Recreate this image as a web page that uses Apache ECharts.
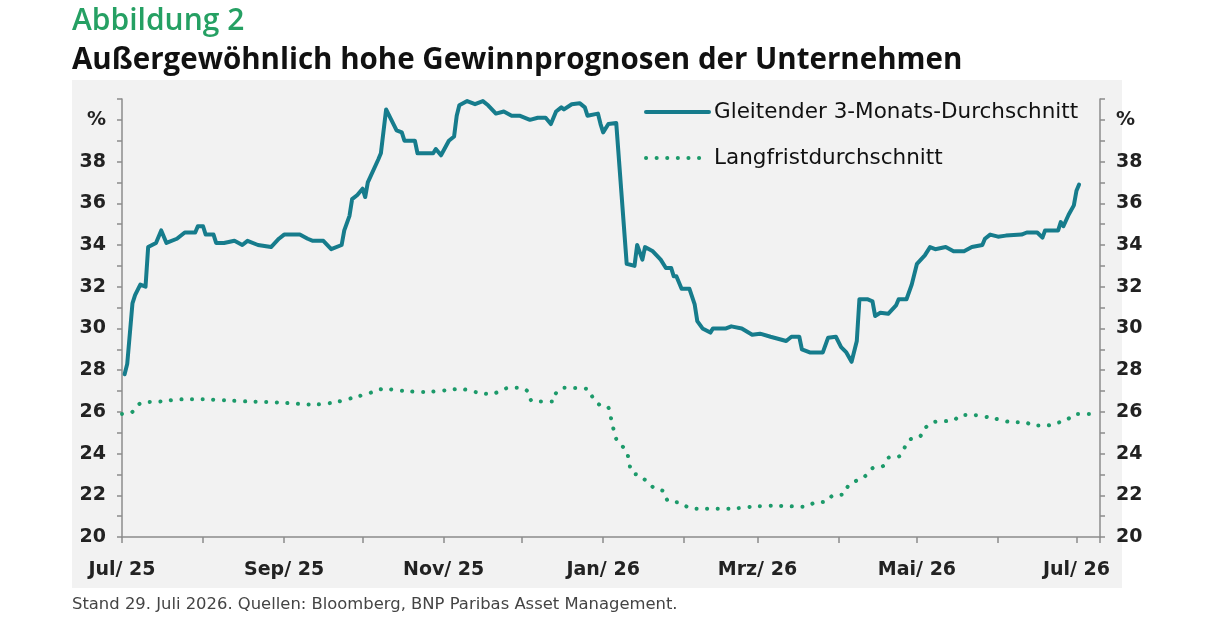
<!DOCTYPE html>
<html>
<head>
<meta charset="utf-8">
<script src="https://cdn.jsdelivr.net/npm/echarts@6/dist/echarts.min.js"></script>
<style>
html,body{margin:0;padding:0;background:#fff;}
#chart{width:1223px;height:619px;}
</style>
</head>
<body>
<div id="chart"></div>
<script>
// Gleitender 3-Monats-Durchschnitt
const avg3mDates = [
'2025-07-02','2025-07-03','2025-07-05','2025-07-06','2025-07-08','2025-07-10','2025-07-11','2025-07-14','2025-07-16','2025-07-18',
'2025-07-22','2025-07-25','2025-07-29','2025-07-30','2025-08-01','2025-08-02','2025-08-05','2025-08-06','2025-08-09','2025-08-13',
'2025-08-16','2025-08-18','2025-08-22','2025-08-27','2025-08-30','2025-09-01','2025-09-07','2025-09-10','2025-09-12','2025-09-16',
'2025-09-19','2025-09-23','2025-09-24','2025-09-26','2025-09-27','2025-09-29','2025-10-01','2025-10-02','2025-10-03','2025-10-07',
'2025-10-08','2025-10-10','2025-10-12','2025-10-14','2025-10-16','2025-10-17','2025-10-21','2025-10-22','2025-10-24','2025-10-28',
'2025-10-29','2025-10-31','2025-11-03','2025-11-05','2025-11-06','2025-11-07','2025-11-10','2025-11-13','2025-11-16','2025-11-18',
'2025-11-21','2025-11-24','2025-11-27','2025-11-30','2025-12-04','2025-12-07','2025-12-10','2025-12-12','2025-12-14','2025-12-16',
'2025-12-17','2025-12-20','2025-12-23','2025-12-25','2025-12-26','2025-12-30','2025-12-31','2026-01-01','2026-01-03','2026-01-06',
'2026-01-10','2026-01-13','2026-01-14','2026-01-16','2026-01-17','2026-01-20','2026-01-23','2026-01-25','2026-01-27','2026-01-28',
'2026-01-29','2026-01-31','2026-02-03','2026-02-05','2026-02-06','2026-02-08','2026-02-11','2026-02-12','2026-02-17','2026-02-19',
'2026-02-23','2026-02-27','2026-03-02','2026-03-06','2026-03-12','2026-03-14','2026-03-17','2026-03-18','2026-03-21','2026-03-26',
'2026-03-28','2026-03-31','2026-04-02','2026-04-04','2026-04-06','2026-04-08','2026-04-09','2026-04-12','2026-04-14','2026-04-15',
'2026-04-17','2026-04-20','2026-04-23','2026-04-24','2026-04-27','2026-04-29','2026-05-01','2026-05-04','2026-05-06','2026-05-08',
'2026-05-12','2026-05-15','2026-05-19','2026-05-22','2026-05-26','2026-05-27','2026-05-29','2026-06-01','2026-06-04','2026-06-10',
'2026-06-12','2026-06-16','2026-06-18','2026-06-19','2026-06-24','2026-06-25','2026-06-26','2026-06-28','2026-06-30','2026-07-01',
'2026-07-02'
];
const avg3mValues = [
27.8,28.3,31.2,31.6,32.1,32.0,33.9,34.1,34.7,34.1,
34.3,34.6,34.6,34.9,34.9,34.5,34.5,34.1,34.1,34.2,
34.0,34.2,34.0,33.9,34.3,34.5,34.5,34.3,34.2,34.2,
33.8,34.0,34.7,35.4,36.2,36.4,36.7,36.3,37.0,38.1,
38.4,40.5,40.0,39.5,39.4,39.0,39.0,38.4,38.4,38.4,
38.6,38.3,39.0,39.2,40.2,40.7,40.9,40.75,40.9,40.7,
40.3,40.4,40.2,40.2,40.0,40.1,40.1,39.8,40.4,40.6,
40.5,40.75,40.8,40.6,40.2,40.3,39.8,39.4,39.8,39.85,
33.1,33.0,34.0,33.3,33.9,33.7,33.3,32.9,32.9,32.5,
32.5,31.9,31.9,31.15,30.35,30.0,29.8,30.0,30.0,30.1,
30.0,29.7,29.75,29.6,29.4,29.6,29.6,29.0,28.85,28.85,
29.55,29.6,29.1,28.85,28.4,29.4,31.4,31.4,31.3,30.6,
30.75,30.7,31.1,31.4,31.4,32.1,33.1,33.5,33.9,33.8,
33.9,33.7,33.7,33.9,34.0,34.3,34.5,34.4,34.45,34.5,
34.6,34.6,34.35,34.7,34.7,35.1,34.9,35.45,35.9,36.6,
36.9
];

// Langfristdurchschnitt
const longDates = [
'2025-07-01','2025-07-05','2025-07-08','2025-07-16','2025-07-24','2025-08-01','2025-08-10','2025-08-18','2025-08-30','2025-09-12',
'2025-09-20','2025-09-28','2025-10-05','2025-10-09','2025-10-17','2025-10-25','2025-11-03','2025-11-07','2025-11-15','2025-11-19',
'2025-11-26','2025-11-30','2025-12-03','2025-12-05','2025-12-13','2025-12-14','2025-12-17','2025-12-26','2025-12-28','2025-12-31',
'2026-01-03','2026-01-04','2026-01-06','2026-01-08','2026-01-10','2026-01-12','2026-01-15','2026-01-21','2026-01-24','2026-01-26',
'2026-01-30','2026-02-03','2026-02-07','2026-02-19','2026-02-27','2026-03-07','2026-03-19','2026-03-23','2026-03-27','2026-03-30',
'2026-04-03','2026-04-05','2026-04-11','2026-04-14','2026-04-18','2026-04-20','2026-04-24','2026-04-28','2026-05-02','2026-05-04',
'2026-05-07','2026-05-15','2026-05-18','2026-05-22','2026-05-30','2026-06-07','2026-06-11','2026-06-15','2026-06-20','2026-06-23',
'2026-06-27','2026-07-01','2026-07-09'
];
const longValues = [
25.9,26.0,26.4,26.5,26.6,26.6,26.55,26.5,26.45,26.35,
26.45,26.7,26.95,27.1,27.0,26.95,27.05,27.1,26.9,26.85,
27.15,27.15,27.0,26.5,26.5,26.9,27.15,27.1,26.7,26.3,
26.2,25.7,24.7,24.4,24.1,23.1,22.95,22.3,22.2,21.7,
21.65,21.4,21.35,21.36,21.45,21.5,21.45,21.65,21.7,22.0,
22.05,22.5,22.9,23.3,23.4,23.8,23.85,24.65,24.8,25.2,
25.5,25.6,25.85,25.85,25.7,25.5,25.5,25.35,25.35,25.45,
25.6,25.9,25.9
];

const seriesNames = ['Gleitender 3-Monats-Durchschnitt', 'Langfristdurchschnitt'];
const monthNames = ['Jan','Feb','Mrz','Apr','Mai','Jun','Jul','Aug','Sep','Okt','Nov','Dez'];
const labelledMonths = ['Jan','Mrz','Mai','Jul','Sep','Nov'];
const yTopLabel = '%';

const solidData = avg3mDates.map((d, i) => [d, avg3mValues[i]]);
const dottedData = longDates.map((d, i) => [d, longValues[i]]);

const axisFont = { fontFamily: 'DejaVu Sans', fontSize: 19, fontWeight: 'bold', color: '#222' };
const DAY = 86400000;

function yLabel(v) {
  if (v === 40) return yTopLabel;
  if (v % 2 !== 0 || v > 40) return '';
  return String(v);
}

const chart = echarts.init(document.getElementById('chart'), null, { renderer: 'canvas' });
chart.setOption({
  animation: false,
  backgroundColor: '#ffffff',
  title: [
    { text: 'Abbildung 2', left: 72, top: 6, padding: 0,
      textStyle: { fontFamily: 'Open Sans', fontWeight: 600, fontSize: 30, color: '#25a063' } },
    { text: 'Außergewöhnlich hohe Gewinnprognosen der Unternehmen', left: 72, top: 46, padding: 0,
      textStyle: { fontFamily: 'Open Sans', fontWeight: 'bold', fontSize: 29.5, color: '#111' } },
    { text: 'Stand 29. Juli 2026. Quellen: Bloomberg, BNP Paribas Asset Management.', left: 72, top: 597, padding: 0,
      textStyle: { fontFamily: 'DejaVu Sans', fontWeight: 'normal', fontSize: 16.4, color: '#444' } }
  ],
  graphic: [
    { type: 'rect', left: 72, top: 80, z: -10, silent: true,
      shape: { width: 1050, height: 508 }, style: { fill: '#f2f2f2' } }
  ],
  legend: {
    orient: 'vertical', left: 644, top: 100, padding: 0,
    itemWidth: 63, itemHeight: 14, itemGap: 22,
    itemStyle: { opacity: 0 },
    lineStyle: { width: 4 },
    textStyle: { fontFamily: 'DejaVu Sans', fontSize: 21.5, color: '#111', lineHeight: 24 },
    data: seriesNames
  },
  grid: { left: 122, right: 123, top: 99, bottom: 82, containLabel: false },
  xAxis: {
    type: 'time',
    min: '2025-07-01', max: '2026-07-10',
    minInterval: 28 * DAY, maxInterval: 31 * DAY,
    axisLine: { show: true, lineStyle: { color: '#8c8c8c', width: 1.5 } },
    axisTick: { show: true, length: 6, inside: false, lineStyle: { color: '#8c8c8c', width: 1.5 } },
    splitLine: { show: false },
    axisLabel: {
      ...axisFont, margin: 24, hideOverlap: false, showMinLabel: true, showMaxLabel: true,
      formatter: function (value) {
        const d = new Date(value);
        if (d.getDate() !== 1) return '';
        const m = monthNames[d.getMonth()];
        if (labelledMonths.indexOf(m) < 0) return '';
        return m + '/ ' + String(d.getFullYear()).slice(2);
      }
    }
  },
  yAxis: [
    { type: 'value', min: 20, max: 41, interval: 1, position: 'left',
      axisLine: { show: true, lineStyle: { color: '#8c8c8c', width: 1.5 } },
      axisTick: { show: true, length: 5, lineStyle: { color: '#8c8c8c', width: 1.5 } },
      splitLine: { show: false },
      axisLabel: { ...axisFont, margin: 16, formatter: yLabel } },
    { type: 'value', min: 20, max: 41, interval: 1, position: 'right',
      axisLine: { show: true, lineStyle: { color: '#8c8c8c', width: 1.5 } },
      axisTick: { show: true, length: 5, lineStyle: { color: '#8c8c8c', width: 1.5 } },
      splitLine: { show: false },
      axisLabel: { ...axisFont, margin: 16, formatter: yLabel } }
  ],
  series: [
    { name: seriesNames[0], type: 'line', yAxisIndex: 0, data: solidData,
      symbol: 'none', showSymbol: false, smooth: false, z: 3,
      lineStyle: { color: '#167c8c', width: 4, join: 'round', cap: 'round' },
      itemStyle: { color: '#167c8c' } },
    { name: seriesNames[1], type: 'line', yAxisIndex: 0, data: dottedData,
      symbol: 'none', showSymbol: false, smooth: 0.3, z: 2,
      lineStyle: { color: '#1c9a6a', width: 4, type: [0.1, 10.5], cap: 'round' },
      itemStyle: { color: '#1c9a6a' } }
  ]
});
</script>
</body>
</html>
